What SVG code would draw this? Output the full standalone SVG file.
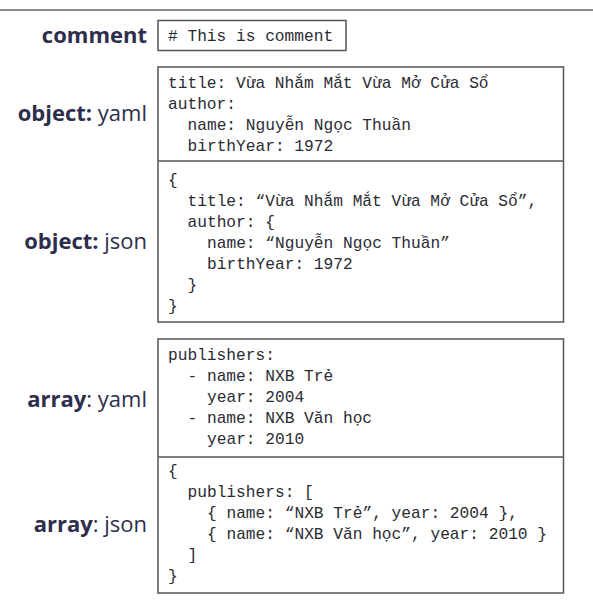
<svg xmlns="http://www.w3.org/2000/svg" width="593" height="607" viewBox="0 0 593 607">
<style>
.box{fill:#fff;stroke:#555;stroke-width:1.5}
.div{stroke:#555;stroke-width:1.5}
.code{font-family:"Liberation Mono","DejaVu Sans Mono",monospace;font-size:16.2px;fill:#2b2b33}
.lbl{font-family:"Open Sans","Noto Sans",sans-serif;font-size:22px;fill:#2e2e4c;text-anchor:end}
.b{font-weight:700}
</style>
<rect width="593" height="607" fill="#fff"/>
<line x1="0" y1="10" x2="593" y2="10" stroke="#8c8c8c" stroke-width="2"/>

<g id="comment">
<text class="lbl b" x="147" y="43">comment</text>
<rect class="box" x="158" y="20.5" width="188" height="30"/>
<text class="code" x="168" y="41"># This is comment</text>
</g>

<g id="object">
<rect class="box" x="158" y="67" width="405.5" height="255"/>
<line class="div" x1="158" y1="161" x2="563.5" y2="161"/>
<g id="object-yaml">
<text class="lbl" x="147" y="121"><tspan class="b">object:</tspan> yaml</text>
<text class="code" x="168" y="88">title: Vừa Nhắm Mắt Vừa Mở Cửa Sổ</text>
<text class="code" x="168" y="109">author:</text>
<text class="code" x="187.5" y="130">name: Nguyễn Ngọc Thuần</text>
<text class="code" x="187.5" y="151">birthYear: 1972</text>
</g>
<g id="object-json">
<text class="lbl" x="147" y="249"><tspan class="b">object:</tspan> json</text>
<text class="code" x="168" y="185">{</text>
<text class="code" x="187.5" y="206">title: “Vừa Nhắm Mắt Vừa Mở Cửa Sổ”,</text>
<text class="code" x="187.5" y="227">author: {</text>
<text class="code" x="207" y="248">name: “Nguyễn Ngọc Thuần”</text>
<text class="code" x="207" y="269">birthYear: 1972</text>
<text class="code" x="187.5" y="290">}</text>
<text class="code" x="168" y="311">}</text>
</g>
</g>

<g id="array">
<rect class="box" x="158" y="339" width="405.5" height="254"/>
<line class="div" x1="158" y1="457" x2="563.5" y2="457"/>
<g id="array-yaml">
<text class="lbl" x="147" y="407"><tspan class="b">array</tspan>: yaml</text>
<text class="code" x="168" y="360">publishers:</text>
<text class="code" x="187.5" y="381">- name: NXB Trẻ</text>
<text class="code" x="207" y="402">year: 2004</text>
<text class="code" x="187.5" y="423">- name: NXB Văn học</text>
<text class="code" x="207" y="444">year: 2010</text>
</g>
<g id="array-json">
<text class="lbl" x="147" y="532"><tspan class="b">array</tspan>: json</text>
<text class="code" x="168" y="476">{</text>
<text class="code" x="187.5" y="497">publishers: [</text>
<text class="code" x="207" y="518">{ name: “NXB Trẻ”, year: 2004 },</text>
<text class="code" x="207" y="539">{ name: “NXB Văn học”, year: 2010 }</text>
<text class="code" x="187.5" y="560">]</text>
<text class="code" x="168" y="581">}</text>
</g>
</g>
</svg>
